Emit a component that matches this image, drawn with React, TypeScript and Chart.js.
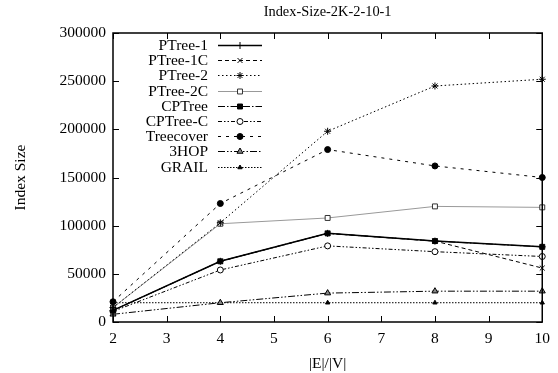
import React, { useEffect, useRef } from "react";
import { Chart, registerables } from "chart.js";
import { drawPoint } from "chart.js/helpers";

Chart.register(...registerables);

const titleText = "Index-Size-2K-2-10-1";
const xLabel = "|E|/|V|";
const yLabel = "Index Size";
const xValues = [2, 4, 6, 8, 10];
const seriesNames = ["PTree-1", "PTree-1C", "PTree-2", "PTree-2C", "CPTree", "CPTree-C", "Treecover", "3HOP", "GRAIL"];
const pTree1 = [12000, 63000, 92000, 84000, 78000];
const pTree1C = [12000, 63000, 92000, 84000, 56000];
const pTree2 = [15000, 103000, 198000, 245000, 252000];
const pTree2C = [15000, 102000, 108000, 120000, 119000];
const cpTree = [12000, 63000, 92000, 84000, 78000];
const cpTreeC = [11000, 54000, 79000, 73000, 68000];
const treecover = [21000, 123000, 179000, 162000, 150000];
const threeHop = [8000, 20000, 30000, 32000, 32000];
const grail = [20000, 20000, 20000, 20000, 20000];
const yTicks = [0, 50000, 100000, 150000, 200000, 250000, 300000];

const FONT = "'Liberation Serif', 'DejaVu Serif', serif";
const FS = 15.5;

const styles = [
  { color: "#000", dash: [], width: 1.5, point: "cross", fill: "#000", radius: 3.5 },
  { color: "#000", dash: [4, 3], width: 1, point: "crossRot", fill: "#000", radius: 3.5 },
  { color: "#000", dash: [1.5, 2.5], width: 1, point: "star", fill: "#000", radius: 3.5 },
  { color: "#999", dash: [], width: 1, point: "rect", fill: "#fff", radius: 3.5, pointBorder: "#333" },
  { color: "#000", dash: [7, 2, 1.5, 2], width: 1, point: "rect", fill: "#000", radius: 3.5 },
  { color: "#000", dash: [4, 2, 1.5, 2, 1.5, 2], width: 1, point: "circle", fill: "#fff", radius: 3 },
  { color: "#000", dash: [3, 5], width: 1, point: "circle", fill: "#000", radius: 3 },
  { color: "#000", dash: [7, 2, 1.5, 2, 1.5, 2], width: 1, point: "triangle", fill: "#888", radius: 3.5, pointBorder: "#000" },
  { color: "#000", dash: [1.5, 1.5], width: 1, point: "triangle", fill: "#000", radius: 2.5 },
];

const seriesData = [pTree1, pTree1C, pTree2, pTree2C, cpTree, cpTreeC, treecover, threeHop, grail];

const framePlugin = {
  id: "frame",
  afterDraw(chart: any) {
    const { ctx, chartArea } = chart;
    const { left, right, top, bottom } = chartArea;
    const xs = chart.scales.x;
    const ys = chart.scales.y;
    ctx.save();
    ctx.setLineDash([]);
    ctx.strokeStyle = "#000";
    ctx.lineWidth = 1.5;
    ctx.strokeRect(left, top, right - left, bottom - top);
    ctx.lineWidth = 1;
    ctx.beginPath();
    xs.ticks.forEach((t: any) => {
      const px = Math.round(xs.getPixelForValue(t.value)) + 0.5;
      ctx.moveTo(px, bottom); ctx.lineTo(px, bottom - 6);
      ctx.moveTo(px, top); ctx.lineTo(px, top + 6);
    });
    ys.ticks.forEach((t: any) => {
      const py = Math.round(ys.getPixelForValue(t.value)) + 0.5;
      ctx.moveTo(left, py); ctx.lineTo(left + 6, py);
      ctx.moveTo(right, py); ctx.lineTo(right - 6, py);
    });
    ctx.stroke();
    ctx.font = `14.4px ${FONT}`;
    ctx.fillStyle = "#000";
    ctx.textAlign = "center";
    ctx.textBaseline = "middle";
    ctx.fillText(titleText, (left + right) / 2, 12);
    ctx.restore();
  },
};

const legendPlugin = {
  id: "gnuLegend",
  afterDatasetsDraw(chart: any) {
    const { ctx } = chart;
    const textRight = 208;
    const lineStart = 218;
    const lineEnd = 262;
    const y0 = 45;
    const step = 15.2;
    ctx.save();
    chart.data.datasets.forEach((ds: any, i: number) => {
      const y = y0 + i * step;
      ctx.font = `${FS}px ${FONT}`;
      ctx.fillStyle = "#000";
      ctx.textAlign = "right";
      ctx.textBaseline = "middle";
      ctx.fillText(ds.label, textRight, y + 1);
      ctx.strokeStyle = ds.borderColor;
      ctx.lineWidth = ds.borderWidth;
      ctx.setLineDash(ds.borderDash || []);
      ctx.beginPath();
      ctx.moveTo(lineStart, Math.round(y) + 0.5);
      ctx.lineTo(lineEnd, Math.round(y) + 0.5);
      ctx.stroke();
      ctx.setLineDash([]);
      ctx.fillStyle = ds.pointBackgroundColor;
      ctx.strokeStyle = ds.pointBorderColor;
      ctx.lineWidth = 1;
      drawPoint(ctx, { pointStyle: ds.pointStyle, radius: ds.pointRadius, rotation: 0, borderWidth: 1 } as any, (lineStart + lineEnd) / 2, Math.round(y) + 0.5);
    });
    ctx.restore();
  },
};

export default function App() {
  const ref = useRef<HTMLCanvasElement>(null);
  useEffect(() => {
    document.body.style.margin = "0";
    const datasets = seriesNames.map((name, i) => {
      const s: any = styles[i];
      return {
        label: name,
        data: xValues.map((x, j) => ({ x, y: seriesData[i][j] })),
        borderColor: s.color,
        borderWidth: s.width,
        borderDash: s.dash,
        pointStyle: s.point,
        pointRadius: s.radius,
        pointBackgroundColor: s.fill,
        pointBorderColor: s.pointBorder || "#000",
        pointBorderWidth: 1,
        tension: 0,
        fill: false,
        clip: false,
      };
    });
    const chart = new Chart(ref.current!, {
      type: "line",
      data: { datasets },
      options: {
        animation: false,
        responsive: false,
        layout: { padding: { top: 33, right: 10, left: 0, bottom: 0 } },
        plugins: {
          legend: { display: false },
          tooltip: { enabled: false },
          title: { display: false },
        },
        scales: {
          x: {
            type: "linear",
            min: 2,
            max: 10,
            grid: { display: false, drawTicks: false, tickLength: 0 },
            border: { display: false },
            afterFit: (s: any) => { s.height = 51; },
            ticks: { stepSize: 1, color: "#000", padding: 8, font: { family: FONT, size: FS }, maxRotation: 0 },
            title: { display: true, text: xLabel, color: "#000", font: { family: FONT, size: FS }, padding: { top: 0, bottom: 0 } },
          },
          y: {
            type: "linear",
            min: yTicks[0],
            max: yTicks[yTicks.length - 1],
            grid: { display: false, drawTicks: false, tickLength: 0 },
            border: { display: false },
            afterFit: (s: any) => { s.width = 113; },
            afterBuildTicks: (s: any) => { s.ticks = yTicks.map((v) => ({ value: v })); },
            ticks: { color: "#000", padding: 7, font: { family: FONT, size: FS }, callback: (v: any) => String(v) },
            title: { display: true, text: yLabel, color: "#000", font: { family: FONT, size: FS }, padding: { top: 12 } },
          },
        },
      },
      plugins: [framePlugin, legendPlugin],
    });
    return () => chart.destroy();
  }, []);
  return (
    <div style={{ width: 558, height: 373, background: "#fff" }}>
      <canvas ref={ref} width={558} height={373} />
    </div>
  );
}
